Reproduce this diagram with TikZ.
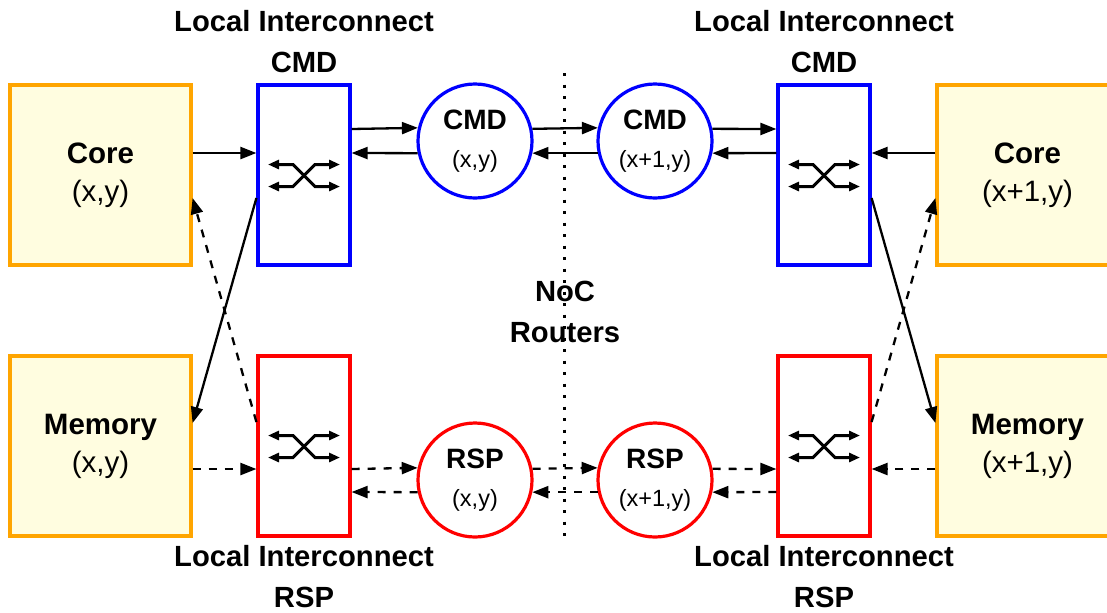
\documentclass[tikz,border=0pt]{standalone}
\usepackage{fontspec}
\setmainfont{Liberation Sans}
\usetikzlibrary{calc,arrows.meta}
\definecolor{tileorange}{HTML}{FFA500}
\definecolor{tilefill}{HTML}{FFFDE0}
\begin{document}
\begin{tikzpicture}[x=0.5pt,y=-0.5pt,
  tile/.style={draw=tileorange,fill=tilefill,line width=1.6pt,minimum width=90.5pt,
    minimum height=90pt,inner sep=0pt,align=center,font=\fontsize{14.75}{19}\selectfont},
  xconn/.style={draw=#1,line width=1.6pt,minimum width=46pt,minimum height=90pt,inner sep=0pt},
  router/.style={draw=#1,circle,line width=1.6pt,minimum size=57pt,inner sep=0pt,
    align=center,font=\fontsize{14}{19}\selectfont},
  caption/.style={align=center,font=\fontsize{14.6}{20.5}\selectfont\bfseries},
  link/.style={line width=1.15pt,-{Triangle[length=8pt,width=6pt]}},
  rsplink/.style={link,dash pattern=on 4pt off 4pt},
  xbarline/.style={line width=1.5pt,{Triangle[length=5.5pt,width=4.5pt]}-{Triangle[length=5.5pt,width=4.5pt]}},
  xbar/.pic={
    \draw[xbarline] (-36,-11) -- (-11,-11) -- (11,11) -- (36,11);
    \draw[xbarline] (-36,11) -- (-11,11) -- (11,-11) -- (36,-11);
  }
]
\clip (0,0) rectangle (1107,612);

% processing tiles
\node[tile] (coreL) at (100.5,175) {\textbf{Core}\\(x,y)};
\node[tile] (memL)  at (100.5,446) {\textbf{Memory}\\(x,y)};
\node[tile] (coreR) at (1027.5,175) {\textbf{Core}\\(x+1,y)};
\node[tile] (memR)  at (1027.5,446) {\textbf{Memory}\\(x+1,y)};

% local interconnects
\node[xconn=blue] (liCL) at (304,175) {};
\node[xconn=red]  (liRL) at (304,446) {};
\node[xconn=blue] (liCR) at (824,175) {};
\node[xconn=red]  (liRR) at (824,446) {};
\pic at (304,175.5) {xbar};
\pic at (304,446.5) {xbar};
\pic at (824,175.5) {xbar};
\pic at (824,446.5) {xbar};

% NoC routers
\node[router=blue] (cmdL) at (475,141) {\textbf{CMD}\\{\fontsize{11.75}{19}\selectfont (x,y)}};
\node[router=blue] (cmdR) at (655,141) {\textbf{CMD}\\{\fontsize{11.75}{19}\selectfont (x+1,y)}};
\node[router=red]  (rspL) at (475,480) {\textbf{RSP}\\{\fontsize{11.75}{19}\selectfont (x,y)}};
\node[router=red]  (rspR) at (655,480) {\textbf{RSP}\\{\fontsize{11.75}{19}\selectfont (x+1,y)}};

% captions
\node[caption] (capTL) at (304,42) {Local Interconnect\\CMD};
\node[caption] (capTR) at (824,42) {Local Interconnect\\CMD};
\node[caption] (capBL) at (304,577) {Local Interconnect\\RSP};
\node[caption] (capBR) at (824,577) {Local Interconnect\\RSP};
\node[caption] (noc) at (565,312) {NoC\\Routers};

% boundary between the two routers
\coordinate (divTop) at (564,73);
\coordinate (divBot) at (564,542);
\draw[line width=1.5pt,dash pattern=on 1.5pt off 4.25pt] (divTop) -- (divBot);

% command network (solid)
\draw[link] ($(coreL.east)+(0,-22)$) -- ($(liCL.west)+(0,-22)$);
\draw[link] ($(liCL.east)+(0,-46)$) -- (cmdL.167.85);
\draw[link] (cmdL.192.15) -- ($(liCL.east)+(0,-22)$);
\draw[link] (cmdL.12.15) -- (cmdR.167.85);
\draw[link] (cmdR.192.15) -- (cmdL.-12.15);
\draw[link] (cmdR.12.15) -- ($(liCR.west)+(0,-46)$);
\draw[link] ($(liCR.west)+(0,-22)$) -- (cmdR.-12.15);
\draw[link] ($(coreR.west)+(0,-22)$) -- ($(liCR.east)+(0,-22)$);
\draw[link] ($(liCL.west)+(0,23)$) -- ($(memL.east)+(0,-23)$);
\draw[link] ($(liCR.east)+(0,23)$) -- ($(memR.west)+(0,-23)$);

% response network (dashed)
\draw[rsplink] ($(memL.east)+(0,23)$) -- ($(liRL.west)+(0,23)$);
\draw[rsplink] ($(liRL.east)+(0,23)$) -- (rspL.168.5);
\draw[rsplink] (rspL.192.15) -- ($(liRL.east)+(0,46)$);
\draw[rsplink] (rspL.11.5) -- (rspR.168.5);
\draw[rsplink] (rspR.192.15) -- (rspL.-12.15);
\draw[rsplink] (rspR.11.5) -- ($(liRR.west)+(0,23)$);
\draw[rsplink] ($(liRR.west)+(0,46)$) -- (rspR.-12.15);
\draw[rsplink] ($(memR.west)+(0,23)$) -- ($(liRR.east)+(0,23)$);
\draw[rsplink] ($(liRL.west)+(0,-24)$) -- ($(coreL.east)+(0,23)$);
\draw[rsplink] ($(liRR.east)+(0,-24)$) -- ($(coreR.west)+(0,23)$);
\end{tikzpicture}
\end{document}
